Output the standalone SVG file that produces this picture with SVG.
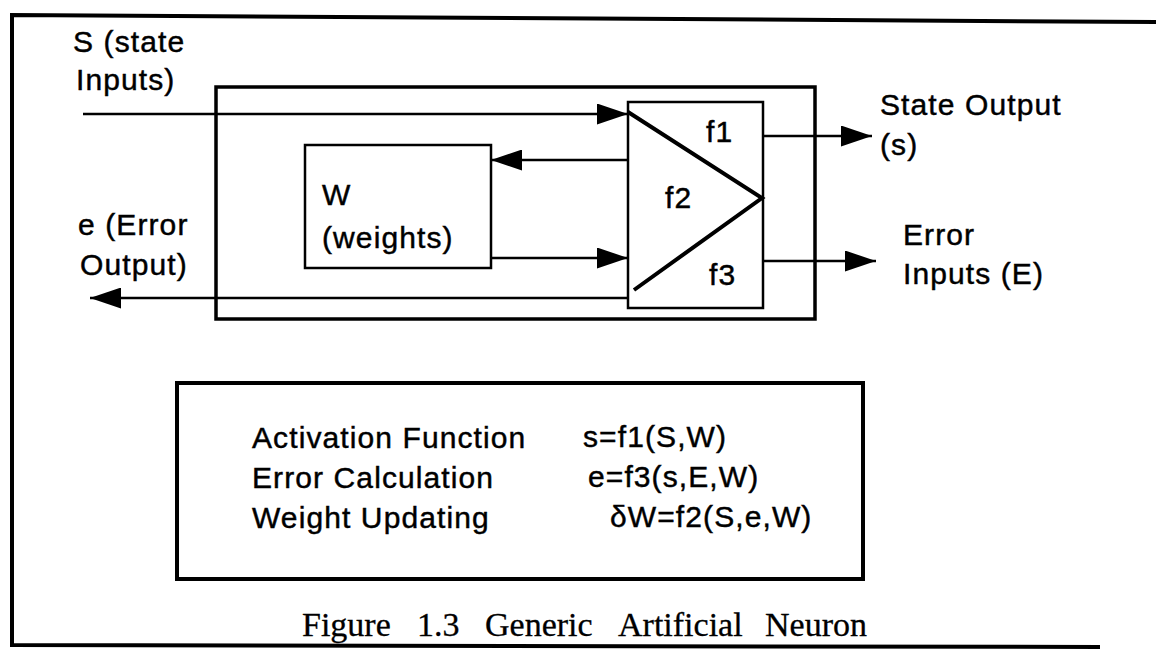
<svg xmlns="http://www.w3.org/2000/svg" width="1156" height="650" viewBox="0 0 1156 650">
<defs>
<style>
.t{font-family:"Liberation Sans",Arial,sans-serif;font-size:30px;letter-spacing:1.1px;fill:#000;stroke:#000;stroke-width:0.45}
.cap{font-family:"Liberation Serif","Times New Roman",serif;font-size:34px;fill:#000;stroke:#000;stroke-width:0.3}
.ln{stroke:#000;stroke-width:2.5;fill:none}
.box{stroke:#000;fill:none}
</style>
<marker id="ah" markerUnits="userSpaceOnUse" markerWidth="31" markerHeight="21" refX="31" refY="10.5" orient="auto">
<path d="M0,0 L31,10.5 L0,21 Z" fill="#000"/>
</marker>
</defs>
<rect width="1156" height="650" fill="#fff"/>
<g id="frame">
<path d="M1156,22 L12,15 L12,645 L1100,647" class="box" stroke-width="4"/>
</g>
<g id="neuron-box">
<rect x="216" y="87" width="599" height="232" class="box" stroke-width="3.5"/>
</g>
<g id="weights">
<rect x="305" y="145" width="186" height="123" class="box" stroke-width="2.5"/>
<text class="t" x="322" y="205">W</text>
<text class="t" x="322" y="248">(weights)</text>
</g>
<g id="f-block">
<rect x="628" y="102" width="135" height="206" class="box" stroke-width="2.5"/>
<path d="M628,112 L762,198 L634,290" class="box" stroke-width="4"/>
<text class="t" x="706" y="142">f1</text>
<text class="t" x="665" y="208">f2</text>
<text class="t" x="709" y="285">f3</text>
</g>
<g id="connectors">
<path d="M83,114 H628" class="ln" marker-end="url(#ah)"/>
<path d="M628,160 H491" class="ln" marker-end="url(#ah)"/>
<path d="M491,258 H628" class="ln" marker-end="url(#ah)"/>
<path d="M628,298 H90" class="ln" marker-end="url(#ah)"/>
<path d="M763,136 H872" class="ln" marker-end="url(#ah)"/>
<path d="M763,261 H876" class="ln" marker-end="url(#ah)"/>
</g>
<g id="label-state-inputs">
<text class="t" x="73" y="52">S (state</text>
<text class="t" x="76" y="90">Inputs)</text>
</g>
<g id="label-error-output">
<text class="t" x="78" y="235">e (Error</text>
<text class="t" x="80" y="275">Output)</text>
</g>
<g id="label-state-output">
<text class="t" x="880" y="115">State Output</text>
<text class="t" x="880" y="155">(s)</text>
</g>
<g id="label-error-inputs">
<text class="t" x="903" y="245">Error</text>
<text class="t" x="903" y="284">Inputs (E)</text>
</g>
<g id="equations">
<rect x="177" y="383" width="686" height="196" class="box" stroke-width="4"/>
<text class="t" x="252" y="448">Activation Function</text>
<text class="t" x="252" y="488">Error Calculation</text>
<text class="t" x="252" y="528">Weight Updating</text>
<text class="t" x="583" y="447">s=f1(S,W)</text>
<text class="t" x="588" y="487">e=f3(s,E,W)</text>
<text class="t" x="610" y="527">δW=f2(S,e,W)</text>
</g>
<g id="caption">
<text class="cap" y="636"><tspan x="302">Figure</tspan><tspan x="417">1.3</tspan><tspan x="485">Generic</tspan><tspan x="618">Artificial</tspan><tspan x="765">Neuron</tspan></text>
</g>
</svg>
